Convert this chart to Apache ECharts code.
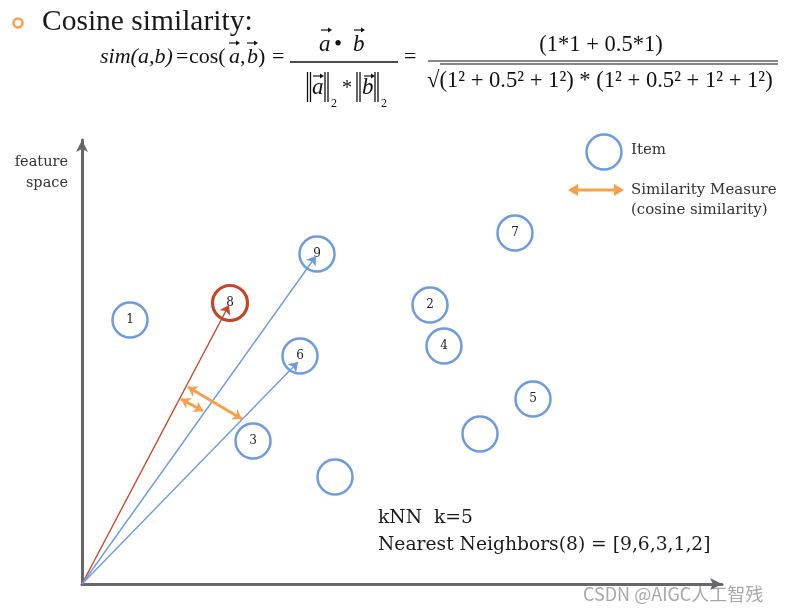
<!DOCTYPE html>
<html><head><meta charset="utf-8">
<script src="https://cdn.jsdelivr.net/npm/echarts@6/dist/echarts.min.js"></script>
<style>html,body{margin:0;padding:0;background:#fff}#c{width:787px;height:614px}</style>
</head><body><div id="c"></div>
<script>
// ---- data (feature-space units, origin at the axes' corner) ----
const itemLabels = ['1', '9', '6', '3', '', '2', '4', '7', '5', ''];
const itemX = [48, 235, 218, 171, 253, 348, 362, 433, 451, 398];
const itemY = [264, 330, 228, 143, 107, 279, 238, 351, 185, 150];
const queryLabel = ['8'];
const queryX = [148];
const queryY = [281];
const vectorTipX = [147, 234, 216];
const vectorTipY = [279, 328, 222];
const vectorIsQuery = [true, false, false];
const simFromX = [106, 99];
const simFromY = [197, 185];
const simToX = [160, 121];
const simToY = [165, 173];
const knnLines = ['kNN  k=5', 'Nearest Neighbors(8) = [9,6,3,1,2]'];

const BLUE = '#6f9bdb', RED = '#c2472a', ORANGE = '#f4a04c', AXIS = '#66666b';
const SERIF = '"DejaVu Serif", serif';
const TIMES = '"Liberation Serif", "Times New Roman", serif';
const INK = '#111';

const chart = echarts.init(document.getElementById('c'), null, {renderer: 'canvas'});

const itemData = itemX.map((x, i) => ({value: [x, itemY[i]], name: itemLabels[i]}));
const queryData = queryX.map((x, i) => ({value: [x, queryY[i]], name: queryLabel[i]}));
const vectorData = vectorTipX.map((x, i) => ({
  coords: [[0, 0], [x, vectorTipY[i]]],
  lineStyle: {color: vectorIsQuery[i] ? RED : BLUE}
}));
const simData = simFromX.map((x, i) => ({coords: [[x, simFromY[i]], [simToX[i], simToY[i]]]}));

function txt(x, y, text, font, extra) {
  return {type: 'text', x: x, y: y, style: Object.assign({text: text, font: font, fill: INK, verticalAlign: 'middle'}, extra || {})};
}
function vecArrow(cx, cy) { // small arrow accent above a vector symbol
  return [
    {type: 'line', shape: {x1: cx - 5, y1: cy, x2: cx + 4, y2: cy}, style: {stroke: INK, lineWidth: 1.2}},
    {type: 'polygon', shape: {points: [[cx + 6, cy], [cx + 2, cy - 2.5], [cx + 2, cy + 2.5]]}, style: {fill: INK}}
  ];
}
function vbar(x, y1, y2) {
  return {type: 'line', shape: {x1: x, y1: y1, x2: x, y2: y2}, style: {stroke: INK, lineWidth: 1.3}};
}

const F = '22px ' + TIMES, FI = 'italic 22px ' + TIMES;
const F2 = '23px ' + TIMES, FI2 = 'italic 23px ' + TIMES;
const graphics = [
  // title bullet + title
  {type: 'circle', shape: {cx: 18, cy: 23, r: 4.5}, style: {fill: 'none', stroke: ORANGE, lineWidth: 2.5}},
  txt(42, 22, 'Cosine similarity:', '29.5px ' + TIMES, {fill: '#1a1a1a'}),
  // formula: sim(a,b) = cos(a,b) =
  txt(100, 57, 'sim(a,b)', FI),
  txt(176, 57, '=', F),
  txt(189, 57, 'cos(', F),
  txt(229, 57, 'a', FI),
  txt(240, 57, ',', F),
  txt(247, 57, 'b', FI),
  txt(258, 57, ')', F),
  txt(272, 57, '=', F),
  ...vecArrow(234, 43), ...vecArrow(252, 43),
  // fraction 1
  txt(319, 45, 'a', FI2),
  txt(334, 45, '\u2022', F2),
  txt(353, 45, 'b', FI2),
  ...vecArrow(326, 30), ...vecArrow(359, 30),
  {type: 'line', shape: {x1: 290, y1: 62, x2: 398, y2: 62}, style: {stroke: INK, lineWidth: 1.3}},
  vbar(307.5, 72, 102), vbar(310.5, 72, 102),
  txt(312, 88, 'a', FI2),
  vbar(325, 72, 102), vbar(328, 72, 102),
  txt(331, 104, '2', '12px ' + TIMES),
  txt(342, 89, '*', '20px ' + TIMES),
  vbar(357, 72, 102), vbar(360, 72, 102),
  txt(362, 88, 'b', FI2),
  vbar(375, 72, 102), vbar(378, 72, 102),
  txt(381, 104, '2', '12px ' + TIMES),
  ...vecArrow(318, 76), ...vecArrow(369, 76),
  txt(404, 57, '=', F),
  // fraction 2
  txt(601, 45, '(1*1 + 0.5*1)', '22.5px ' + TIMES, {align: 'center'}),
  {type: 'line', shape: {x1: 428, y1: 61, x2: 778, y2: 61}, style: {stroke: INK, lineWidth: 1.2}},
  {type: 'line', shape: {x1: 440, y1: 64, x2: 778, y2: 64}, style: {stroke: INK, lineWidth: 1}},
  txt(427, 81, '\u221A(1\u00B2 + 0.5\u00B2 + 1\u00B2) * (1\u00B2 + 0.5\u00B2 + 1\u00B2 + 1\u00B2)', '22.6px ' + TIMES),
  // axis caption
  txt(68, 162, 'feature', '14.5px ' + SERIF, {align: 'right', fill: '#333'}),
  txt(68, 183, 'space', '14.5px ' + SERIF, {align: 'right', fill: '#333'}),
  // legend
  {type: 'circle', shape: {cx: 604, cy: 152, r: 17.5}, style: {fill: 'none', stroke: BLUE, lineWidth: 2.5}},
  txt(631, 150, 'Item', '15px ' + SERIF, {fill: '#333'}),
  {type: 'line', shape: {x1: 575, y1: 190, x2: 618, y2: 190}, style: {stroke: ORANGE, lineWidth: 3}},
  {type: 'polygon', shape: {points: [[568, 190], [578, 184], [578, 196]]}, style: {fill: ORANGE}},
  {type: 'polygon', shape: {points: [[624, 190], [614, 184], [614, 196]]}, style: {fill: ORANGE}},
  txt(631, 190, 'Similarity Measure', '15px ' + SERIF, {fill: '#333'}),
  txt(631, 210, '(cosine similarity)', '15px ' + SERIF, {fill: '#333'}),
  // kNN text
  txt(378, 518, knnLines[0], '18.7px ' + SERIF, {fill: '#1a1a1a'}),
  txt(378, 545, knnLines[1], '18.7px ' + SERIF, {fill: '#1a1a1a'}),
  // source watermark
  txt(583, 594, 'CSDN @AIGC人工智残', '18px "Noto Sans CJK SC", sans-serif', {fill: '#a8a8a8'})
];

chart.setOption({
  animation: false,
  backgroundColor: '#ffffff',
  grid: {left: 82, right: 65, top: 140, bottom: 30, containLabel: false},
  xAxis: {
    type: 'value', min: 0, max: 640,
    axisLine: {show: true, onZero: false, symbol: ['none', 'arrow'], symbolSize: [9, 12], lineStyle: {color: AXIS, width: 3}},
    axisTick: {show: false}, axisLabel: {show: false}, splitLine: {show: false}
  },
  yAxis: {
    type: 'value', min: 0, max: 444,
    axisLine: {show: true, onZero: false, symbol: ['none', 'arrow'], symbolSize: [9, 12], lineStyle: {color: AXIS, width: 3}},
    axisTick: {show: false}, axisLabel: {show: false}, splitLine: {show: false}
  },
  series: [
    {
      type: 'lines', coordinateSystem: 'cartesian2d', z: 3,
      symbol: ['none', 'arrow'], symbolSize: 9,
      lineStyle: {width: 1.4, opacity: 1},
      data: vectorData
    },
    {
      type: 'lines', coordinateSystem: 'cartesian2d', z: 4,
      symbol: ['arrow', 'arrow'], symbolSize: 9,
      lineStyle: {width: 3, color: ORANGE, opacity: 1},
      data: simData
    },
    {
      type: 'scatter', z: 2, symbol: 'circle', symbolSize: 35,
      itemStyle: {color: 'rgba(255,255,255,0)', borderColor: BLUE, borderWidth: 2.5, opacity: 1},
      label: {show: true, position: 'inside', formatter: '{b}', color: '#222', fontFamily: SERIF, fontSize: 12},
      data: itemData
    },
    {
      type: 'scatter', z: 2, symbol: 'circle', symbolSize: 35,
      itemStyle: {color: 'rgba(255,255,255,0)', borderColor: RED, borderWidth: 3.2, opacity: 1},
      label: {show: true, position: 'inside', formatter: '{b}', color: '#222', fontFamily: SERIF, fontSize: 12},
      data: queryData
    }
  ],
  graphic: graphics
});
</script>
</body></html>
